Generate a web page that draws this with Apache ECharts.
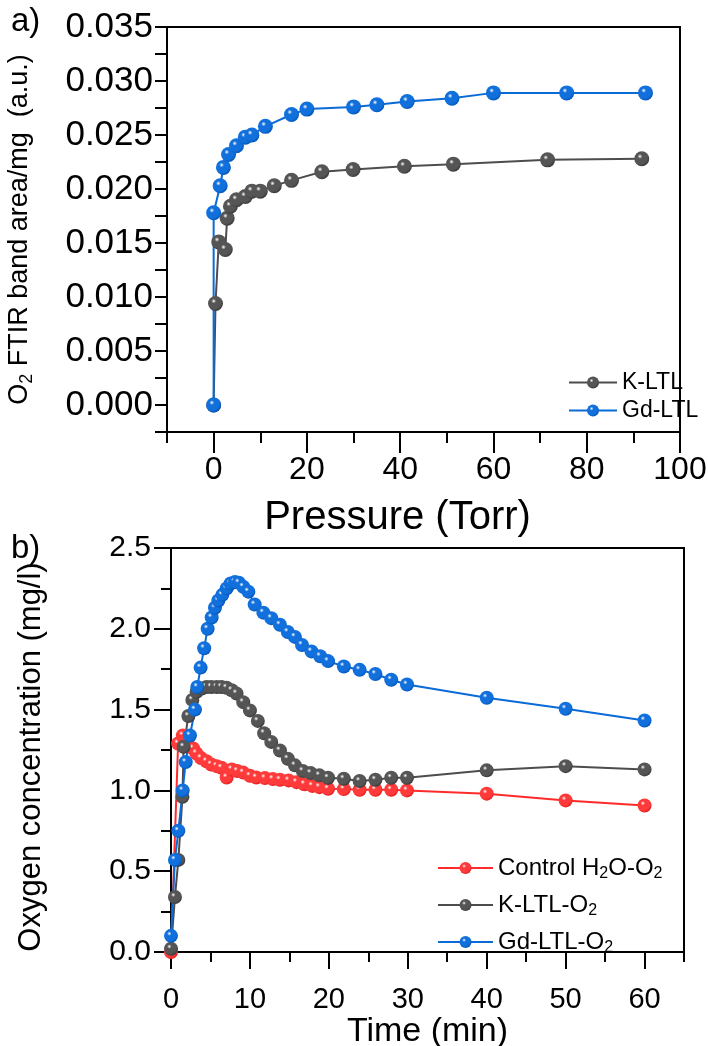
<!DOCTYPE html>
<html>
<head>
<meta charset="utf-8">
<script src="https://cdn.jsdelivr.net/npm/echarts@6/dist/echarts.min.js"></script>
<style>
html,body{margin:0;padding:0;background:#fff;}
#chart{width:708px;height:1046px;}
</style>
</head>
<body>
<div id="chart"></div>
<script>
// ---------- Panel a data ----------
const kPressure = [0, 0.4, 1.1, 2.5, 2.9, 3.6, 4.9, 6.8, 8.2, 10.0, 13.0, 16.7, 23.2, 29.9, 40.9, 51.4, 71.6, 91.8];
const kArea     = [0.0000, 0.0094, 0.0151, 0.0144, 0.0173, 0.0184, 0.0190, 0.0193, 0.0198, 0.0198, 0.0203, 0.0208, 0.0216, 0.0218, 0.0221, 0.0223, 0.0227, 0.0228];
const gdPressure = [0.0, 0.0, 1.4, 2.1, 3.2, 4.9, 6.8, 8.2, 11.1, 16.7, 20.0, 30.0, 35.0, 41.5, 51.1, 60.0, 75.7, 92.6];
const gdArea     = [0.0000, 0.0178, 0.0203, 0.0220, 0.0232, 0.0240, 0.0248, 0.0250, 0.0258, 0.0269, 0.0274, 0.0276, 0.0278, 0.0281, 0.0284, 0.0289, 0.0289, 0.0289];

// ---------- Panel b data ----------
const controlTime = [0, 0.9, 1.5, 2.2, 2.8, 3.2, 3.8, 4.5, 5.1, 5.8, 6.4, 7.05, 7.7, 8.4, 9.15, 10.0, 10.8, 11.9, 12.9, 13.8, 14.9, 15.9, 16.9, 17.9, 18.8, 19.9, 21.9, 23.9, 25.9, 27.9, 29.9, 40, 50, 60];
const controlConc = [0.0, 1.29, 1.34, 1.28, 1.26, 1.23, 1.20, 1.18, 1.16, 1.15, 1.14, 1.08, 1.13, 1.12, 1.11, 1.09, 1.08, 1.076, 1.07, 1.066, 1.062, 1.051, 1.038, 1.028, 1.02, 1.01, 1.008, 1.004, 1.004, 1.004, 1.0, 0.98, 0.938, 0.907];
const kTime = [0, 0.5, 0.93, 1.45, 1.6, 2.2, 2.7, 3.25, 3.9, 4.5, 5.1, 5.8, 6.4, 7.05, 7.7, 8.3, 9.15, 10.0, 11.0, 11.8, 12.7, 13.8, 14.8, 15.7, 16.7, 17.7, 18.8, 19.9, 21.9, 23.9, 25.9, 27.9, 29.9, 40, 50, 60];
const kConc = [0.02, 0.34, 0.57, 0.96, 1.27, 1.46, 1.56, 1.61, 1.63, 1.64, 1.64, 1.64, 1.64, 1.635, 1.62, 1.60, 1.546, 1.495, 1.43, 1.354, 1.30, 1.247, 1.196, 1.155, 1.12, 1.107, 1.093, 1.078, 1.072, 1.058, 1.066, 1.078, 1.078, 1.124, 1.15, 1.13];
const gdTime = [0, 0.5, 0.93, 1.48, 1.86, 2.4, 3.04, 3.33, 3.75, 4.2, 4.64, 5.15, 5.57, 6.0, 6.5, 7.05, 7.55, 8.1, 8.6, 9.15, 9.8, 10.6, 11.7, 12.7, 13.8, 14.8, 15.7, 16.6, 17.8, 18.9, 19.9, 21.9, 23.9, 25.9, 27.9, 29.9, 40, 50, 60];
const gdConc = [0.10, 0.57, 0.75, 1.0, 1.175, 1.34, 1.5, 1.64, 1.76, 1.88, 2.0, 2.07, 2.13, 2.175, 2.21, 2.25, 2.28, 2.29, 2.285, 2.26, 2.23, 2.15, 2.10, 2.066, 2.025, 1.98, 1.95, 1.90, 1.86, 1.83, 1.80, 1.767, 1.746, 1.72, 1.685, 1.655, 1.573, 1.505, 1.433];

// ---------- tick labels ----------
const pressureTicks = [0, 20, 40, 60, 80, 100];
const timeTicks = [0, 10, 20, 30, 40, 50, 60];
const concTicks = [0, 0.5, 1.0, 1.5, 2.0, 2.5];

const FONT = '"Liberation Sans", Arial, Helvetica, sans-serif';
const zip = (xs, ys) => xs.map((x, i) => [x, ys[i]]);

function ball(base, dark) {
  return {type: 'radial', x: 0.38, y: 0.34, r: 0.72,
    colorStops: [{offset: 0, color: '#ffffff'}, {offset: 0.22, color: base}, {offset: 0.7, color: base}, {offset: 1, color: dark}]};
}
const BLUE = {line: '#0a6ad6', base: '#1170dc', dark: '#0050b0'};
const GRAY = {line: '#4d4d4d', base: '#555555', dark: '#333333'};
const RED  = {line: '#ff2b2b', base: '#ff3a3a', dark: '#d81818'};

function lineSeries(name, data, c, xi, yi, size) {
  return {
    name, type: 'line', data, xAxisIndex: xi, yAxisIndex: yi,
    symbol: 'circle', symbolSize: size, showSymbol: true,
    lineStyle: {color: c.line, width: 2},
    itemStyle: {color: ball(c.base, c.dark), borderWidth: 0},
    emphasis: {disabled: true}, animation: false, clip: false
  };
}

const axisLineStyle = {show: true, onZero: false, lineStyle: {color: '#000', width: 2}};
const hiddenLine = {show: false, onZero: false};

const gridA = {left: 167, top: 27, width: 513, height: 405, show: true, borderColor: '#000', borderWidth: 2, outerBoundsMode: 'none'};
const gridB = {left: 171, top: 548, width: 513, height: 404, show: true, borderColor: '#000', borderWidth: 2, outerBoundsMode: 'none'};

const option = {
  backgroundColor: '#fff',
  animation: false,
  textStyle: {fontFamily: FONT},
  grid: [gridA, gridB],
  graphic: [
    {type: 'text', left: 11, top: 5, style: {text: 'a)', font: '33px ' + FONT, fill: '#000'}},
    {type: 'text', left: 11, top: 532, style: {text: 'b)', font: '33px ' + FONT, fill: '#000'}}
  ],
  xAxis: [
    {gridIndex: 0, type: 'value', min: -10, max: 100, interval: 10, position: 'bottom',
      axisLine: axisLineStyle, splitLine: {show: false},
      axisTick: {show: true, inside: false, length: 11, lineStyle: {color: '#000', width: 2}},
      axisLabel: {margin: 22, fontSize: 32, color: '#000', fontFamily: FONT,
        formatter: v => (pressureTicks.indexOf(v) >= 0 ? String(v) : '')},
      name: 'Pressure (Torr)', nameLocation: 'middle', nameGap: 66,
      nameTextStyle: {fontSize: 40, color: '#000', fontFamily: FONT, padding: [0, 52, 0, 0]}},
    {gridIndex: 0, type: 'value', min: -10, max: 100, position: 'bottom',
      axisLine: hiddenLine, splitLine: {show: false}, axisLabel: {show: false},
      axisTick: {show: true, length: 21, customValues: pressureTicks, lineStyle: {color: '#000', width: 2}}},
    {gridIndex: 1, type: 'value', min: 0, max: 65, interval: 5, position: 'bottom',
      axisLine: axisLineStyle, splitLine: {show: false},
      axisTick: {show: true, length: 10, lineStyle: {color: '#000', width: 2}},
      axisLabel: {margin: 33, fontSize: 29, color: '#000', fontFamily: FONT,
        formatter: v => (timeTicks.indexOf(v) >= 0 ? String(v) : '')},
      name: 'Time (min)', nameLocation: 'middle', nameGap: 63,
      nameTextStyle: {fontSize: 34, color: '#000', fontFamily: FONT}},
    {gridIndex: 1, type: 'value', min: 0, max: 65, position: 'bottom',
      axisLine: hiddenLine, splitLine: {show: false}, axisLabel: {show: false},
      axisTick: {show: true, length: 17, customValues: timeTicks, lineStyle: {color: '#000', width: 2}}}
  ],
  yAxis: [
    {gridIndex: 0, type: 'value', min: -0.0025, max: 0.035, interval: 0.0025, position: 'left',
      axisLine: axisLineStyle, splitLine: {show: false},
      axisTick: {show: true, length: 12, lineStyle: {color: '#000', width: 2}},
      axisLabel: {margin: 14, fontSize: 35, color: '#000', fontFamily: FONT,
        formatter: v => (Math.abs(Math.round(v / 0.0025)) % 2 === 0 ? v.toFixed(3) : '')},
      name: '{n|O}{s|2}{n| FTIR band area/mg  (a.u.)}', nameLocation: 'middle', nameGap: 131,
      nameTextStyle: {fontFamily: FONT, color: '#000',
        rich: {n: {fontSize: 27, fontFamily: FONT, color: '#000'}, s: {fontSize: 18, fontFamily: FONT, color: '#000', padding: [14, 0, 0, 0]}}}},
    {gridIndex: 1, type: 'value', min: 0, max: 2.5, interval: 0.25, position: 'left',
      axisLine: axisLineStyle, splitLine: {show: false},
      axisTick: {show: true, length: 10, lineStyle: {color: '#000', width: 2}},
      axisLabel: {margin: 20, fontSize: 30, color: '#000', fontFamily: FONT,
        formatter: v => (concTicks.some(t => Math.abs(t - v) < 1e-6) ? v.toFixed(1) : '')},
      name: 'Oxygen concentration (mg/l)', nameLocation: 'middle', nameGap: 124,
      nameTextStyle: {fontSize: 31, color: '#000', fontFamily: FONT, padding: [0, 14, 0, 0]}},
    {gridIndex: 1, type: 'value', min: 0, max: 2.5, position: 'left',
      axisLine: hiddenLine, splitLine: {show: false}, axisLabel: {show: false},
      axisTick: {show: true, length: 17, customValues: concTicks, lineStyle: {color: '#000', width: 2}}}
  ],
  legend: [
    {data: ['K-LTL', 'Gd-LTL'], orient: 'vertical', left: 563, top: 366, itemGap: 5,
      itemWidth: 48, itemHeight: 15, textStyle: {fontSize: 23, color: '#000', fontFamily: FONT}},
    {data: ['Control H2O-O2', 'K-LTL-O2', 'Gd-LTL-O2'], orient: 'vertical', left: 432, top: 851, itemGap: 11,
      itemWidth: 55, itemHeight: 15,
      formatter: name => ({
        'Control H2O-O2': '{n|Control H}{s|2}{n|O-O}{s|2}',
        'K-LTL-O2': '{n|K-LTL-O}{s|2}',
        'Gd-LTL-O2': '{n|Gd-LTL-O}{s|2}'
      })[name],
      textStyle: {fontSize: 24, color: '#000', fontFamily: FONT,
        rich: {n: {fontSize: 24, fontFamily: FONT, color: '#000'}, s: {fontSize: 16, fontFamily: FONT, color: '#000', padding: [12, 0, 0, 0]}}}}
  ],
  series: [
    lineSeries('K-LTL', zip(kPressure, kArea), GRAY, 0, 0, 15),
    lineSeries('Gd-LTL', zip(gdPressure, gdArea), BLUE, 0, 0, 15),
    lineSeries('Control H2O-O2', zip(controlTime, controlConc), RED, 2, 1, 14),
    lineSeries('K-LTL-O2', zip(kTime, kConc), GRAY, 2, 1, 14),
    lineSeries('Gd-LTL-O2', zip(gdTime, gdConc), BLUE, 2, 1, 14)
  ]
};

const chart = echarts.init(document.getElementById('chart'), null, {renderer: 'canvas'});
chart.setOption(option);
</script>
</body>
</html>
